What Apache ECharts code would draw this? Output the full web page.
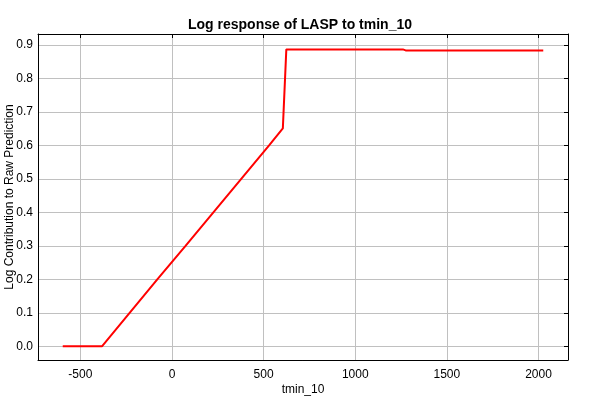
<!DOCTYPE html>
<html>
<head>
<meta charset="utf-8">
<script src="https://cdn.jsdelivr.net/npm/echarts@6/dist/echarts.min.js"></script>
<style>html,body{margin:0;padding:0;background:#fff}#c{width:600px;height:400px}</style>
</head>
<body>
<div id="c"></div>
<script>
var titleText = 'Log response of LASP to tmin_10';
var xName = 'tmin_10';
var yName = 'Log Contribution to Raw Prediction';
var xValues = [-596, -382, -231, -80, 74, 226, 378, 530, 605, 624, 1260, 1275, 2026];
var yValues = [0.000, 0.000, 0.100, 0.200, 0.300, 0.400, 0.500, 0.600, 0.651, 0.887, 0.887, 0.884, 0.884];
var xTicks = [-500, 0, 500, 1000, 1500, 2000];
var yTicks = [0, 0.1, 0.2, 0.3, 0.4, 0.5, 0.6, 0.7, 0.8, 0.9];
var xMin = -731, xMax = 2161, yMin = -0.041, yMax = 0.933;

var data = xValues.map(function (x, i) { return [x, yValues[i]]; });
var font = 'Liberation Sans, Arial, sans-serif';
var chart = echarts.init(document.getElementById('c'));
function axisCommon(extra, ticks) {
  var a = {
    axisLine: { show: true, onZero: false, lineStyle: { color: '#000', width: 1 } },
    axisTick: { show: true, inside: true, length: 4, customValues: ticks, lineStyle: { color: '#000' } },
    splitLine: { show: false },
    axisLabel: { show: false }
  };
  for (var k in extra) a[k] = extra[k];
  return a;
}
chart.setOption({
  animation: false,
  title: { text: titleText, left: 'center', top: 13,
    textStyle: { fontFamily: font, fontSize: 14, fontWeight: 'bold', color: '#000' } },
  grid: { left: 38, right: 32, top: 34, bottom: 40, containLabel: false, outerBoundsMode: 'none' },
  xAxis: [
    axisCommon({ type: 'value', position: 'bottom', min: xMin, max: xMax,
      name: xName, nameLocation: 'middle', nameGap: 24, nameMoveOverlap: false,
      nameTextStyle: { fontFamily: font, fontSize: 12, color: '#000' },
      axisLabel: { show: true, customValues: xTicks, color: '#000', fontFamily: font, fontSize: 12, margin: 9,
        formatter: function (v) { return String(v); } },
      axisTick: { show: false, customValues: xTicks },
      splitLine: { show: true, customValues: xTicks, lineStyle: { color: '#c0c0c0', width: 1 } } }, xTicks),
    axisCommon({ type: 'value', position: 'top', min: xMin, max: xMax }, xTicks)
  ],
  yAxis: [
    axisCommon({ type: 'value', position: 'left', min: yMin, max: yMax,
      name: yName, nameLocation: 'middle', nameGap: 22, nameMoveOverlap: false,
      nameTextStyle: { fontFamily: font, fontSize: 12, color: '#000' },
      axisLabel: { show: true, customValues: yTicks, color: '#000', fontFamily: font, fontSize: 12, margin: 5,
        formatter: function (v) { return v.toFixed(1); } },
      axisTick: { show: false, customValues: yTicks },
      splitLine: { show: true, customValues: yTicks, lineStyle: { color: '#c0c0c0', width: 1 } } }, yTicks),
    axisCommon({ type: 'value', position: 'right', min: yMin, max: yMax }, yTicks)
  ],
  series: [{
    type: 'line', data: data, showSymbol: false, symbol: 'none',
    lineStyle: { color: '#ff0000', width: 2 }, itemStyle: { color: '#ff0000' }
  }]
});
</script>
</body>
</html>
